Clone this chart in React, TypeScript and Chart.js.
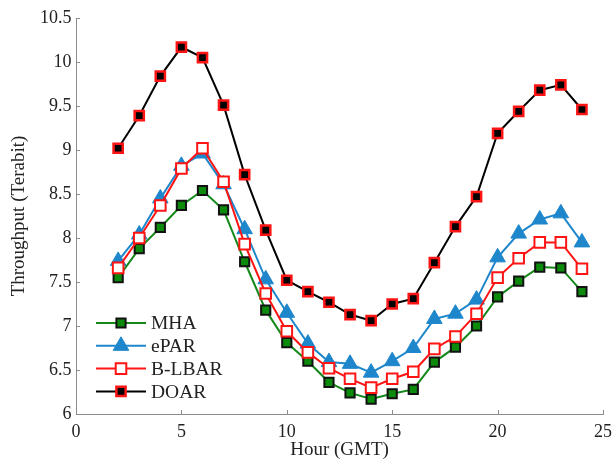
import React, { useEffect, useRef } from "react";
import { Chart, registerables } from "chart.js";

Chart.register(...registerables);

// Hour of day (GMT)
const hours = [2, 3, 4, 5, 6, 7, 8, 9, 10, 11, 12, 13, 14, 15, 16, 17, 18, 19, 20, 21, 22, 23, 24];

// Throughput per scheme (Terabit)
const mha = [7.55, 7.88, 8.12, 8.37, 8.54, 8.32, 7.73, 7.18, 6.81, 6.6, 6.36, 6.24, 6.17, 6.23, 6.28, 6.59, 6.76, 7.0, 7.33, 7.51, 7.67, 7.66, 7.39];
const epar = [7.74, 8.04, 8.45, 8.82, 8.96, 8.61, 8.1, 7.53, 7.15, 6.8, 6.59, 6.57, 6.47, 6.6, 6.75, 7.08, 7.14, 7.3, 7.78, 8.05, 8.21, 8.28, 7.95];
const blbar = [7.66, 8.0, 8.37, 8.79, 9.02, 8.64, 7.93, 7.37, 6.94, 6.7, 6.52, 6.4, 6.3, 6.4, 6.48, 6.74, 6.88, 7.14, 7.55, 7.77, 7.95, 7.95, 7.65];
const doar = [9.02, 9.39, 9.84, 10.17, 10.05, 9.51, 8.72, 8.09, 7.52, 7.39, 7.27, 7.13, 7.06, 7.25, 7.31, 7.72, 8.13, 8.47, 9.19, 9.44, 9.68, 9.74, 9.46];

const seriesNames = ["MHA", "ePAR", "B-LBAR", "DOAR"];

const xTicks = [0, 5, 10, 15, 20, 25];
const yTicks = [6, 6.5, 7, 7.5, 8, 8.5, 9, 9.5, 10, 10.5];

const FONT = "'Liberation Serif', 'Times New Roman', serif";
const GREEN = "#14891a";
const BLUE = "#1e87cc";
const RED = "#ff1414";
const AXIS = "#8c8c8c";

const toPoints = (ys: number[]) => hours.map((h, i) => ({ x: h, y: ys[i] }));

type MarkerSpec = {
  shape: "rect" | "triangle";
  radius: number;
  fill: string;
  stroke: string;
  strokeWidth: number;
};

function drawMarker(ctx: CanvasRenderingContext2D, x: number, y: number, m: MarkerSpec) {
  ctx.save();
  ctx.beginPath();
  if (m.shape === "rect") {
    const s = m.radius * Math.SQRT1_2;
    ctx.rect(x - s, y - s, 2 * s, 2 * s);
  } else {
    const r = m.radius;
    ctx.moveTo(x, y - r);
    ctx.lineTo(x + r * Math.sin(Math.PI / 3), y + r * 0.5);
    ctx.lineTo(x - r * Math.sin(Math.PI / 3), y + r * 0.5);
    ctx.closePath();
  }
  ctx.fillStyle = m.fill;
  ctx.fill();
  ctx.lineWidth = m.strokeWidth;
  ctx.strokeStyle = m.stroke;
  ctx.stroke();
  ctx.restore();
}

const markers: MarkerSpec[] = [
  { shape: "rect", radius: 6.5, fill: "#0c8a0c", stroke: "#111", strokeWidth: 2 },
  { shape: "triangle", radius: 9, fill: BLUE, stroke: BLUE, strokeWidth: 1 },
  { shape: "rect", radius: 7.5, fill: "#fff", stroke: RED, strokeWidth: 2 },
  { shape: "rect", radius: 6.5, fill: "#000", stroke: RED, strokeWidth: 2.5 },
];
const lineColors = [GREEN, BLUE, RED, "#000"];

// Inward tick marks on the left and bottom axes (MATLAB style)
const inwardTicks = {
  id: "inwardTicks",
  afterDraw(chart: any) {
    const { ctx, chartArea, scales } = chart;
    ctx.save();
    ctx.strokeStyle = AXIS;
    ctx.lineWidth = 1;
    ctx.beginPath();
    for (const v of yTicks) {
      const py = Math.round(scales.y.getPixelForValue(v)) + 0.5;
      ctx.moveTo(chartArea.left, py);
      ctx.lineTo(chartArea.left + 4, py);
    }
    for (const v of xTicks) {
      const px = Math.round(scales.x.getPixelForValue(v)) + 0.5;
      ctx.moveTo(px, chartArea.bottom);
      ctx.lineTo(px, chartArea.bottom - 4);
    }
    ctx.stroke();
    ctx.restore();
  },
};

// Legend in the lower-left corner of the plot
const cornerLegend = {
  id: "cornerLegend",
  afterDraw(chart: any) {
    const { ctx, chartArea } = chart;
    const x0 = chartArea.left + 20;
    const x1 = x0 + 50;
    const mid = (x0 + x1) / 2;
    const rowH = 22.8;
    const yFirst = chartArea.bottom - 91;
    ctx.save();
    seriesNames.forEach((name, i) => {
      const y = yFirst + i * rowH;
      ctx.beginPath();
      ctx.strokeStyle = lineColors[i];
      ctx.lineWidth = 2;
      ctx.moveTo(x0, y);
      ctx.lineTo(x1, y);
      ctx.stroke();
      drawMarker(ctx, mid, y, markers[i]);
      ctx.fillStyle = "#222";
      ctx.font = `19.5px ${FONT}`;
      ctx.textBaseline = "middle";
      ctx.textAlign = "left";
      ctx.fillText(name, x1 + 5, y + 1);
    });
    ctx.restore();
  },
};

export default function App() {
  const canvasRef = useRef<HTMLCanvasElement | null>(null);

  useEffect(() => {
    document.body.style.margin = "0";
    const canvas = canvasRef.current;
    if (!canvas) return;

    const seriesValues = [mha, epar, blbar, doar];
    const datasets = seriesValues.map((vals, i) => {
      const m = markers[i];
      return {
        label: seriesNames[i],
        data: toPoints(vals),
        borderColor: lineColors[i],
        borderWidth: 2,
        pointStyle: m.shape,
        pointRadius: m.radius,
        pointBackgroundColor: m.fill,
        pointBorderColor: m.stroke,
        pointBorderWidth: m.strokeWidth,
        pointHoverRadius: m.radius,
        tension: 0,
        fill: false,
        order: 4 - i,
      };
    });

    const chart = new Chart(canvas, {
      type: "line",
      data: { datasets },
      options: {
        animation: false,
        responsive: true,
        maintainAspectRatio: false,
        layout: { padding: { top: 18, right: 11, left: 0, bottom: 0 } },
        plugins: {
          legend: { display: false },
          tooltip: { enabled: false },
        },
        scales: {
          x: {
            type: "linear",
            min: 0,
            max: 25,
            afterBuildTicks: (scale: any) => {
              scale.ticks = xTicks.map((v) => ({ value: v }));
            },
            afterFit: (scale: any) => {
              scale.height = 46;
              scale.paddingLeft = 0;
              scale.paddingRight = 0;
            },
            grid: { display: false, drawTicks: false },
            border: { display: true, color: AXIS, width: 1 },
            ticks: {
              color: "#222",
              font: { family: FONT, size: 18 },
              padding: 7,
              maxRotation: 0,
              callback: (v: any) => String(v),
            },
            title: {
              display: true,
              text: "Hour (GMT)",
              color: "#222",
              font: { family: FONT, size: 19, lineHeight: 1.05 },
              padding: { top: 0, bottom: 0 },
            },
          },
          y: {
            type: "linear",
            min: 6,
            max: 10.5,
            afterBuildTicks: (scale: any) => {
              scale.ticks = yTicks.map((v) => ({ value: v }));
            },
            afterFit: (scale: any) => {
              scale.width = 76;
              scale.paddingTop = 0;
              scale.paddingBottom = 0;
            },
            grid: { display: false, drawTicks: false },
            border: { display: true, color: AXIS, width: 1 },
            ticks: {
              color: "#222",
              font: { family: FONT, size: 18 },
              padding: 4.5,
              callback: (v: any) => String(v),
            },
            title: {
              display: true,
              text: "Throughput (Terabit)",
              color: "#222",
              font: { family: FONT, size: 19 },
              padding: { top: 8, bottom: 0 },
            },
          },
        },
      },
      plugins: [inwardTicks, cornerLegend],
    } as any);

    return () => chart.destroy();
  }, []);

  return (
    <div style={{ position: "relative", width: 614, height: 460 }}>
      <canvas ref={canvasRef} />
    </div>
  );
}
